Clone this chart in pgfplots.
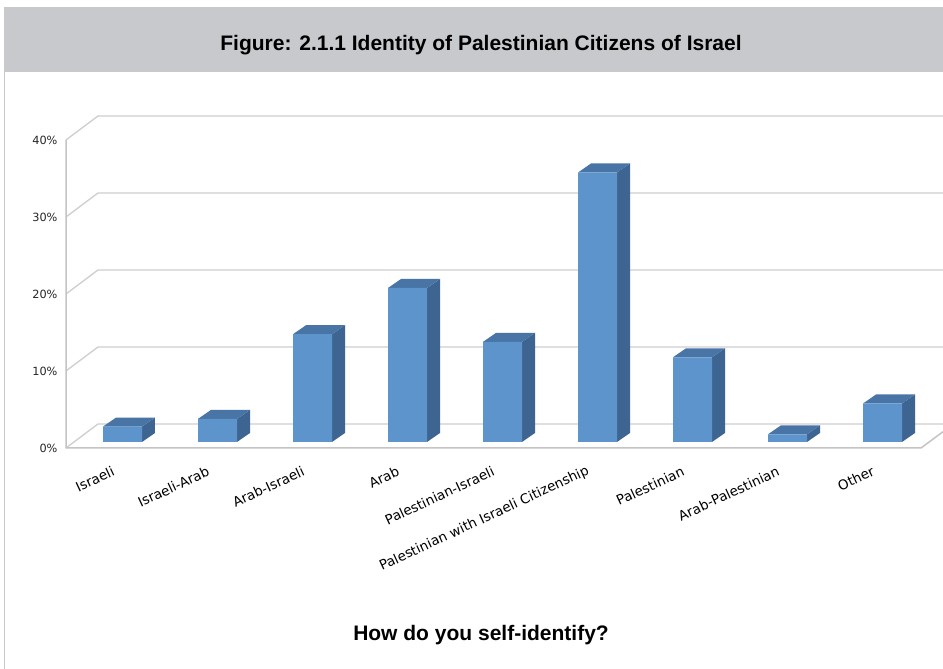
\documentclass[border=0pt]{standalone}
\usepackage{fontspec}
\setmainfont{Liberation Sans}
\newfontfamily\dejavu{DejaVu Sans}
\usepackage{pgfplots}
\pgfplotsset{compat=1.18}
\definecolor{hdr}{RGB}{200,201,204}
\definecolor{grd}{RGB}{206,206,206}
\definecolor{bfront}{RGB}{93,148,204}
\definecolor{bside}{RGB}{62,100,145}
\definecolor{btop}{RGB}{73,117,166}

% side and top faces of a 3D bar at category #1 with value #2
\newcommand\tdfaces[2]{%
 \pgfmathsetmacro\xa{#1+28.5/95}%
 \pgfmathsetmacro\xb{#1+41.5/95}%
 \pgfmathsetmacro\xc{#1-10.5/95}%
 \pgfmathsetmacro\xd{#1+2.5/95}%
 \pgfmathsetmacro\ya{6/7.7}%
 \pgfmathsetmacro\yb{#2+6/7.7}%
 \pgfmathsetmacro\yc{#2+15/7.7}%
 \pgfmathsetmacro\yd{15/7.7}%
 \addplot[fill=bside,draw=none] coordinates {(\xa,\ya) (\xb,\yd) (\xb,\yc) (\xa,\yb)};
 \addplot[fill=btop,draw=none] coordinates {(\xc,\yb) (\xa,\yb) (\xb,\yc) (\xd,\yc)};
}

\begin{document}
\begin{tikzpicture}
\path[use as bounding box] (0,0) rectangle (943pt,669pt);
\fill[white] (0,0) rectangle (943pt,669pt);
\fill[hdr] (4pt,597pt) rectangle (943pt,662pt);
\draw[hdr, line width=1pt] (4.5pt,0) -- (4.5pt,597pt);
\node[font=\bfseries\fontsize{21}{25}\selectfont] at (481pt,624pt) {Figure: 2.1.1 Identity of Palestinian Citizens of Israel};
\node[font=\bfseries\fontsize{21}{25}\selectfont] at (481pt,34pt) {How do you self-identify?};

\begin{axis}[
 at={(66pt,221pt)}, anchor=south west, scale only axis,
 width=855pt, height=308pt,
 xmin=-0.5, xmax=8.5, ymin=0, ymax=40, clip=false,
 axis line style={draw=none}, major tick length=0pt,
 xtick={0,...,8},
 xticklabels={Israeli,Israeli-Arab,Arab-Israeli,Arab,Palestinian-Israeli,Palestinian with Israeli Citizenship,Palestinian,Arab-Palestinian,Other},
 xticklabel style={xshift=3pt, yshift=-21pt, rotate=25, anchor=east, font=\dejavu\fontsize{13.5}{15}\selectfont, text=black},
 ytick={0,10,20,30,40},
 yticklabels={0\%,10\%,20\%,30\%,40\%},
 yticklabel style={xshift=-5pt, font=\dejavu\fontsize{11.3}{13}\selectfont, text=black!85},
]
% back wall and side wall grid lines
\addplot[grd, line width=1.3pt] coordinates {(-0.5,0) (-0.1632,3.117) (8.7316,3.117)};
\addplot[grd, line width=1.3pt] coordinates {(-0.5,10) (-0.1632,13.117) (8.7316,13.117)};
\addplot[grd, line width=1.3pt] coordinates {(-0.5,20) (-0.1632,23.117) (8.7316,23.117)};
\addplot[grd, line width=1.3pt] coordinates {(-0.5,30) (-0.1632,33.117) (8.7316,33.117)};
\addplot[grd, line width=1.3pt] coordinates {(-0.5,40) (-0.1632,43.117) (8.7316,43.117)};
% front axis lines and floor edge
\addplot[grd!95!black, line width=1.5pt] coordinates {(-0.5,40) (-0.5,0) (8.5,0) (8.742,2.208)};
% 3D faces
\tdfaces{0}{2}
\tdfaces{1}{3}
\tdfaces{2}{14}
\tdfaces{3}{20}
\tdfaces{4}{13}
\tdfaces{5}{35}
\tdfaces{6}{11}
\tdfaces{7}{1}
\tdfaces{8}{5}
% front faces
\addplot[ybar, bar width=39pt, bar shift=9pt, yshift=6pt, fill=bfront, draw=none]
 coordinates {(0,2) (1,3) (2,14) (3,20) (4,13) (5,35) (6,11) (7,1) (8,5)};
\end{axis}
\end{tikzpicture}
\end{document}
